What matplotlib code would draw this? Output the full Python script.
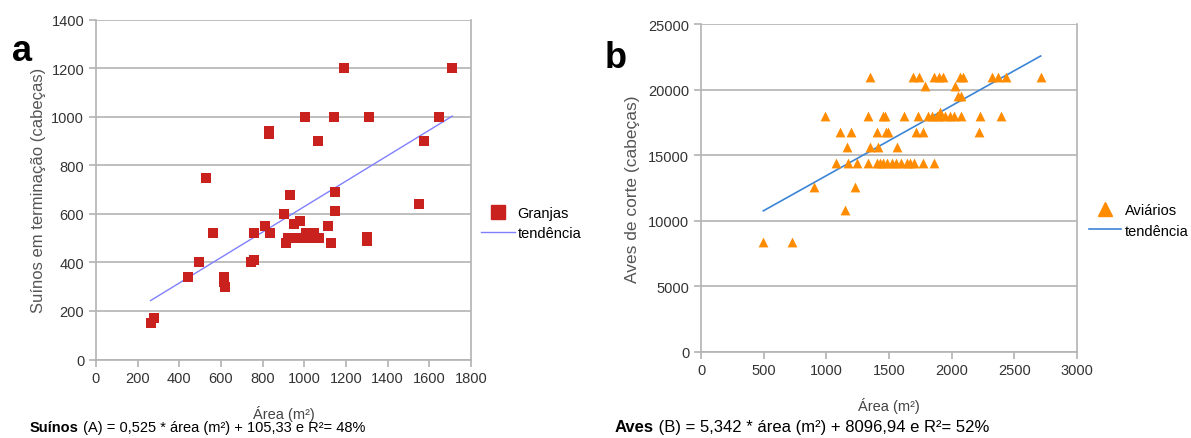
import matplotlib
matplotlib.use("Agg")
import matplotlib.pyplot as plt
from matplotlib.lines import Line2D

# Suínos (granjas): área (m²) x cabeças
area_suinos = [262, 280, 440, 495, 530, 562, 612, 615, 618, 745, 757, 757, 811,
               830, 832, 835, 900, 912, 920, 933, 940, 950, 960, 975, 980, 1005,
               1008, 1020, 1048, 1067, 1072, 1114, 1128, 1140, 1145, 1148, 1190,
               1300, 1300, 1310, 1552, 1576, 1645, 1710]
cab_suinos = [150, 170, 340, 400, 750, 520, 340, 320, 300, 400, 410, 520, 550,
              930, 940, 520, 600, 480, 500, 680, 500, 560, 500, 500, 570, 1000,
              520, 500, 520, 900, 500, 550, 480, 1000, 690, 610, 1200,
              490, 505, 1000, 640, 900, 1000, 1200]

# Aves de corte (aviários): área (m²) x cabeças
area_aves = [1350, 1695, 1740, 1862, 1902, 1928, 2067, 2090, 2320, 2373, 2430, 2710,
             1788, 2027,
             2050, 2078,
             990, 1335, 1450, 1465, 1620, 1735, 1810, 1840, 1880, 1900, 1950, 1985,
             2020, 2075, 2225, 2390, 1910,
             1109, 1200, 1403, 1475, 1490, 1718, 1774, 2221,
             1163, 1345, 1412, 1561,
             1077, 1176, 1245, 1335, 1405, 1430, 1455, 1485, 1520, 1555, 1595, 1640,
             1670, 1700, 1775, 1860,
             905, 1231,
             1149,
             497, 729]
cab_aves = [21000] * 12 + [20300] * 2 + [19500] * 2 + [18000] * 16 + [18300] + \
           [16800] * 8 + [15600] * 4 + [14400] * 16 + [12600] * 2 + [10800] + [8400] * 2

# Linhas de tendência (inclinação, intercepto)
coef_suinos = (0.525, 105.33)
coef_aves = (5.342, 8096.94)

plt.rcParams['font.family'] = ['Liberation Sans', 'DejaVu Sans']
grid_c = '#b3b3b3'

fig = plt.figure(figsize=(11.91, 4.39), dpi=100)


def style_axes(ax):
    ax.spines['top'].set_visible(False)
    for s in ['left', 'right', 'bottom']:
        ax.spines[s].set_color(grid_c)
        ax.spines[s].set_linewidth(1.2)
    ax.grid(axis='y', color=grid_c, linewidth=1.2)
    ax.set_axisbelow(True)
    ax.tick_params(colors=grid_c, labelcolor='#333333', labelsize=10.5, length=5, width=1.2)


# Painel a
ax1 = fig.add_axes([0.0806, 0.1788, 0.3149, 0.7738])
style_axes(ax1)
ax1.scatter(area_suinos, cab_suinos, marker='s', s=44, color='#c9211e', linewidths=0, zorder=3)
xs = [min(area_suinos), max(area_suinos)]
ax1.plot(xs, [coef_suinos[0] * x + coef_suinos[1] for x in xs], color='#8080ff', linewidth=1, zorder=2)
ax1.set_xlim(0, 1800)
ax1.set_ylim(0, 1400)
ax1.set_xticks(range(0, 1801, 200))
ax1.set_yticks(range(0, 1401, 200))
ax1.set_xlabel('Área (m²)', fontsize=10.5, color='#444444', labelpad=14)
ax1.set_ylabel('Suínos em terminação (cabeças)', fontsize=12, color='#555555', labelpad=4)
h1 = [Line2D([], [], marker='s', linestyle='none', color='#c9211e', markersize=10),
      Line2D([], [], color='#8080ff', linewidth=1)]
fig.legend(h1, ['Granjas', 'tendência'], loc='center left', bbox_to_anchor=(0.393, 0.49),
           frameon=False, fontsize=10.5, handlelength=2.3, handletextpad=0.2, labelspacing=0.45)

# Painel b
ax2 = fig.add_axes([0.5886, 0.1966, 0.3157, 0.746])
style_axes(ax2)
ax2.scatter(area_aves, cab_aves, marker='^', s=50, color='#ff8c00', linewidths=0, zorder=3)
xs = [min(area_aves), max(area_aves)]
ax2.plot(xs, [coef_aves[0] * x + coef_aves[1] for x in xs], color='#3c85d6', linewidth=1.2, zorder=2)
ax2.set_xlim(0, 3000)
ax2.set_ylim(0, 25000)
ax2.set_xticks(range(0, 3001, 500))
ax2.set_yticks(range(0, 25001, 5000))
ax2.set_xlabel('Área (m²)', fontsize=10.5, color='#444444', labelpad=14)
ax2.set_ylabel('Aves de corte (cabeças)', fontsize=12.5, color='#555555', labelpad=6)
h2 = [Line2D([], [], marker='^', linestyle='none', color='#ff8c00', markersize=10),
      Line2D([], [], color='#3c85d6', linewidth=1.2)]
fig.legend(h2, ['Aviários', 'tendência'], loc='center left', bbox_to_anchor=(0.903, 0.496),
           frameon=False, fontsize=10.5, handlelength=2.2, handletextpad=0.3, labelspacing=0.45)

# letras dos painéis
fig.text(0.010, 0.86, 'a', fontsize=26, fontweight='bold')
fig.text(0.508, 0.845, 'b', fontsize=26, fontweight='bold')

# equações
ta = fig.text(0.025, 0.015, 'Suínos', fontsize=10.5, fontweight='bold')
ax1.annotate(' (A) = 0,525 * área (m²) + 105,33 e R²= 48%', xy=(1, 0), xycoords=ta,
             va='bottom', ha='left', fontsize=10.5, annotation_clip=False)
tb = fig.text(0.516, 0.017, 'Aves', fontsize=12, fontweight='bold')
ax2.annotate(' (B) = 5,342 * área (m²) + 8096,94 e R²= 52%', xy=(1, 0), xycoords=tb,
             va='bottom', ha='left', fontsize=12, annotation_clip=False)

fig.savefig('out.png', dpi=100)
